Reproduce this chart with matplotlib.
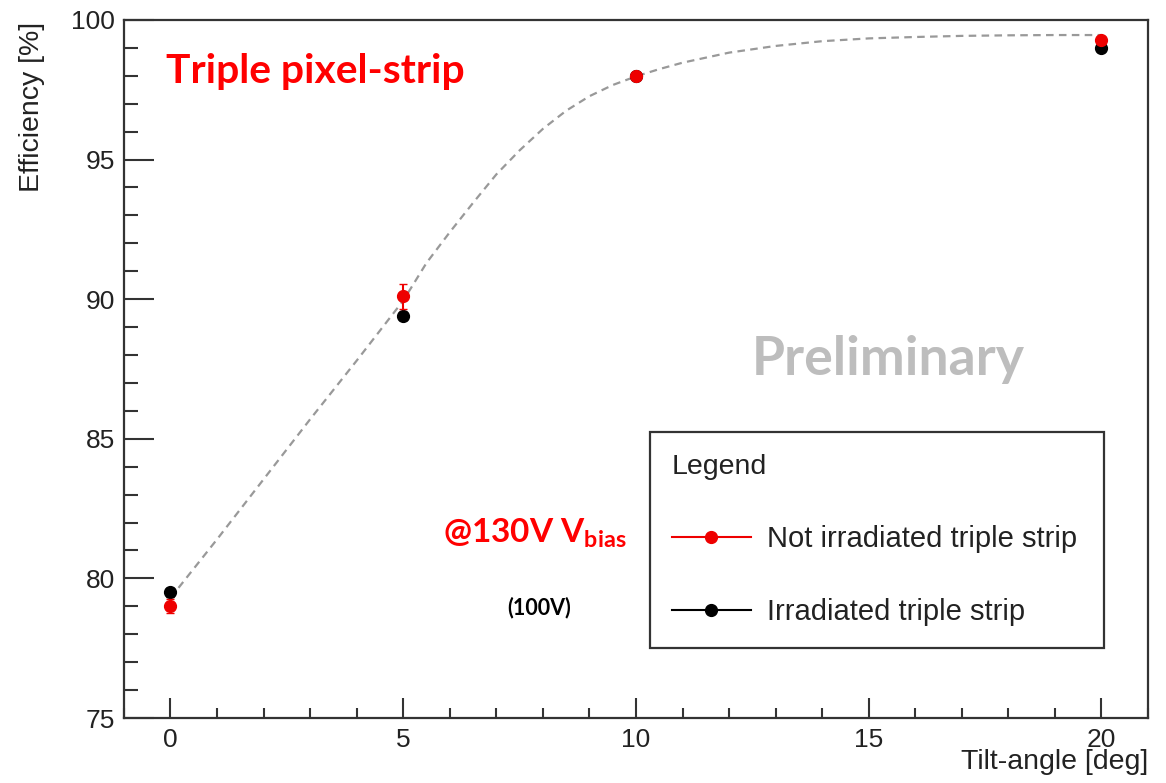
import matplotlib
matplotlib.use("Agg")
import matplotlib.pyplot as plt
from matplotlib.lines import Line2D
from matplotlib.ticker import MultipleLocator

# Measured efficiencies vs. tilt angle
tilt_angles = [0, 5, 10, 20]
eff_not_irradiated = [79.0, 90.1, 98.0, 99.3]
err_not_irradiated = [0.25, 0.45, 0.1, 0.1]
eff_irradiated = [79.5, 89.4, 98.0, 99.0]
err_irradiated = [0.15, 0.15, 0.1, 0.1]

# Fitted efficiency curve (sampled)
fit_angles = [0, 1, 2, 3, 4, 5, 5.5, 6, 6.5, 7, 7.5, 8, 8.5, 9, 9.5,
              10, 10.5, 11, 12, 13, 14, 15, 16, 17, 18, 19, 20]
fit_eff = [79.3, 81.4, 83.55, 85.7, 87.8, 89.95, 91.3, 92.4, 93.45, 94.47,
           95.33, 96.1, 96.75, 97.27, 97.67, 97.98, 98.24, 98.47, 98.83,
           99.07, 99.24, 99.34, 99.39, 99.43, 99.45, 99.46, 99.46]

legend_labels = ["Not irradiated triple strip", "Irradiated triple strip"]

plt.rcParams["font.family"] = ["Liberation Sans", "DejaVu Sans"]
plt.rcParams["mathtext.fontset"] = "custom"
plt.rcParams["mathtext.rm"] = "Lato"
plt.rcParams["mathtext.bf"] = "Lato:bold"
plt.rcParams["mathtext.it"] = "Lato:italic"

fig = plt.figure(figsize=(11.66, 7.83), dpi=100)
ax = fig.add_axes([0.1063, 0.0830, 0.8783, 0.8915])

frame = "#333333"
ax.plot(fit_angles, fit_eff, color="#999999", lw=1.6, dashes=(3.4, 2.4), zorder=2)

ax.errorbar(tilt_angles, eff_irradiated, yerr=err_irradiated, fmt="o",
            color="black", ms=8.5, elinewidth=1.5, capsize=3, zorder=3)
ax.errorbar(tilt_angles, eff_not_irradiated, yerr=err_not_irradiated, fmt="o",
            color="#ee0000", ms=8.5, elinewidth=1.5, capsize=3, zorder=4)

ax.set_xlim(-1, 21)
ax.set_ylim(75, 100)
ax.xaxis.set_major_locator(MultipleLocator(5))
ax.xaxis.set_minor_locator(MultipleLocator(1))
ax.yaxis.set_major_locator(MultipleLocator(5))
ax.yaxis.set_minor_locator(MultipleLocator(1))

for s in ax.spines.values():
    s.set_color(frame)
    s.set_linewidth(1.6)

ax.tick_params(axis="both", which="both", direction="in", color=frame,
               width=1.5, labelsize=19, labelcolor="#222222",
               top=False, right=False)
ax.tick_params(axis="y", which="major", length=21.5, pad=6.5)
ax.tick_params(axis="y", which="minor", length=10)
ax.tick_params(axis="x", which="major", length=14.5, pad=7)
ax.tick_params(axis="x", which="minor", length=7.2)

ax.set_ylabel("Efficiency [%]", fontsize=20.5, color="#222222", loc="top")
ax.yaxis.set_label_coords(-0.077, 0.997)
ax.set_xlabel("Tilt-angle [deg]", fontsize=20.5, color="#222222", loc="right")
ax.xaxis.set_label_coords(1.0, -0.045)

handles = [
    Line2D([0], [0], color="#ee0000", lw=1.5, marker="o", ms=8.5),
    Line2D([0], [0], color="black", lw=1.5, marker="o", ms=8.5),
]
leg = ax.legend(handles, legend_labels, title="Legend",
                loc="upper left", mode="expand",
                bbox_to_anchor=(0.5137, 0.1003, 0.4433, 0.3094),
                fontsize=21, title_fontsize=20.5, alignment="left",
                frameon=True, fancybox=False, framealpha=1,
                edgecolor=frame, borderpad=0.75, labelspacing=1.55,
                handlelength=2.7, handletextpad=0.55, borderaxespad=0)
leg.get_frame().set_linewidth(1.6)
for t in leg.get_texts():
    t.set_color("#222222")
leg.get_title().set_color("#222222")

ax.text(0.041, 0.9097, "Triple pixel-strip", transform=ax.transAxes,
        fontsize=29.3, fontweight="bold", family="Lato", color="#ff0000",
        va="baseline", ha="left")
ax.text(0.6133, 0.4914, "Preliminary", transform=ax.transAxes,
        fontsize=38.5, fontweight="bold", family="Lato", color="#bdbdbd",
        va="baseline", ha="left")
ax.text(0.3115, 0.2507, r"@130V V$_{\mathbf{bias}}$", transform=ax.transAxes,
        fontsize=24, fontweight="bold", family="Lato", color="#ff0000",
        va="baseline", ha="left")
ax.text(0.374, 0.149, "(100V)", transform=ax.transAxes,
        fontsize=15.5, fontweight="bold", family="Lato", color="black",
        va="baseline", ha="left")

fig.savefig("out.png", dpi=100)
